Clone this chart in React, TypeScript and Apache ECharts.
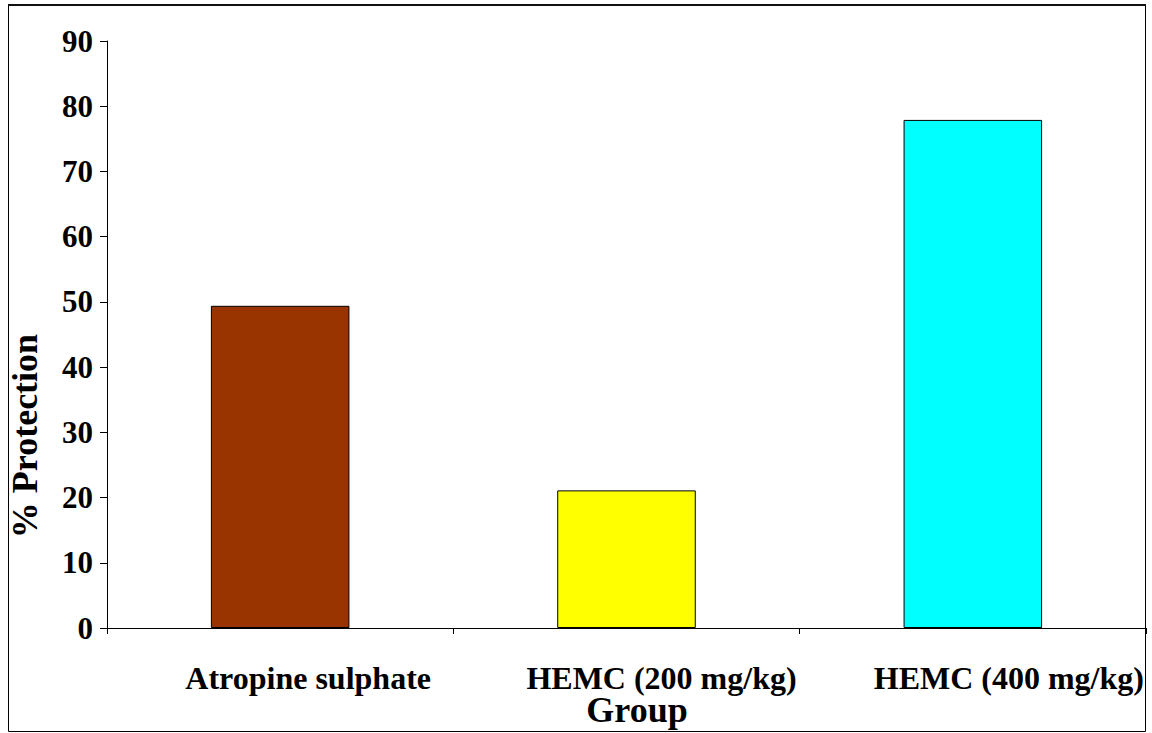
import React, { useEffect, useRef } from "react";
import * as echarts from "echarts";

const categories = ["Atropine sulphate", "HEMC (200 mg/kg)", "HEMC (400 mg/kg)"];
const protection = [49.4, 21.1, 77.9];
const barColors = ["#993300", "#FFFF00", "#00FFFF"];
const labelShift = [56, 70, 72];
const yTicks = { min: 0, max: 90, interval: 10 };

export default function App() {
  const ref = useRef<HTMLDivElement>(null);
  useEffect(() => {
    if (!ref.current) return;
    const chart = echarts.init(ref.current, null, { renderer: "svg" });
    const font = "'Liberation Serif', 'Times New Roman', serif";
    chart.setOption({
      animation: false,
      backgroundColor: "#fff",
      grid: { left: 107, right: 6, top: 41, bottom: 105, containLabel: false },
      xAxis: {
        type: "category",
        data: categories.map((c, i) => ({
          value: c,
          textStyle: { padding: [0, 0, 0, labelShift[i]] },
        })),
        boundaryGap: true,
        axisLine: { lineStyle: { color: "#000", width: 1 } },
        axisTick: { show: true, length: 6, lineStyle: { color: "#000" }, alignWithLabel: false },
        axisLabel: {
          interval: 0,
          color: "#000",
          fontFamily: font,
          fontWeight: "bold",
          fontSize: 32,
          margin: 34,
        },
        splitLine: { show: false },
      },
      yAxis: {
        type: "value",
        min: yTicks.min,
        max: yTicks.max,
        interval: yTicks.interval,
        axisLine: { show: true, lineStyle: { color: "#000", width: 1 } },
        axisTick: { show: true, length: 7, lineStyle: { color: "#000" } },
        axisLabel: {
          color: "#000",
          fontFamily: font,
          fontWeight: "bold",
          fontSize: 31,
          margin: 14,
          padding: [8, 0, 0, 0],
        },
        splitLine: { show: false },
      },
      series: [
        {
          type: "bar",
          barWidth: "40%",
          data: protection.map((v, i) => ({
            value: v,
            itemStyle: { color: barColors[i], borderColor: "#000", borderWidth: 1 },
          })),
        },
      ],
      graphic: [
        {
          type: "rect",
          shape: { x: 8.5, y: 5.5, width: 1137, height: 726 },
          style: { fill: "none", stroke: "#000", lineWidth: 1 },
          silent: true,
        },
        {
          type: "line",
          shape: { x1: 8, y1: 5, x2: 1146, y2: 5 },
          style: { stroke: "#111", lineWidth: 2 },
          silent: true,
        },
        {
          type: "text",
          x: 637,
          y: 710,
          style: {
            text: "Group",
            font: `bold 36px ${font}`,
            fill: "#000",
            align: "center",
            verticalAlign: "middle",
          },
        },
        {
          type: "text",
          x: 25,
          y: 436,
          rotation: Math.PI / 2,
          style: {
            text: "% Protection",
            font: `bold 36px ${font}`,
            fill: "#000",
            align: "center",
            verticalAlign: "middle",
          },
        },
      ],
    });
    return () => chart.dispose();
  }, []);
  return (
    <div
      ref={ref}
      style={{ position: "fixed", left: 0, top: 0, width: 1152, height: 733 }}
    />
  );
}
